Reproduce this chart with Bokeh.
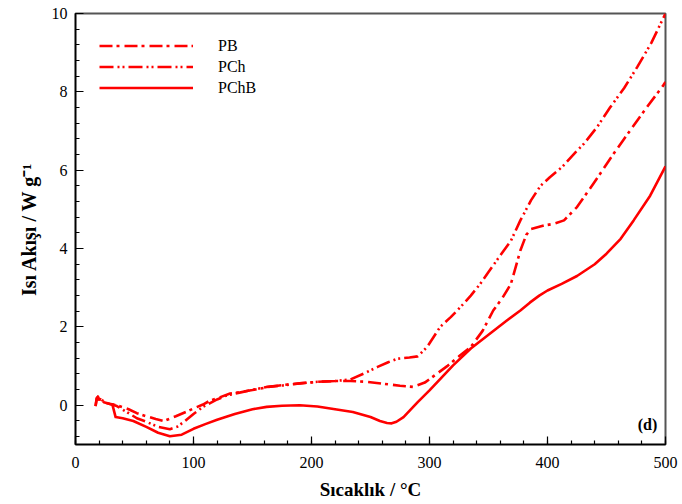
from bokeh.plotting import figure
from bokeh.models import Range1d, SingleIntervalTicker, Legend, LegendItem, Label
from bokeh.embed import file_html
from bokeh.resources import INLINE

# ---- data ----
pb_t = [17, 18, 19, 20, 21, 24, 30, 35, 45, 52, 60, 68, 75, 85, 95, 100, 108, 114, 122, 131,
        140, 150, 162, 176, 190, 205, 220, 233, 247, 261, 275, 286, 296, 306, 315, 325, 335,
        345, 354, 362, 369, 377, 382, 386, 397, 405, 414, 425, 439, 456, 464, 484, 498, 500]
pb_v = [-0.02, 0.18, 0.22, 0.08, 0.2, 0.08, 0.03, 0.0, -0.1, -0.2, -0.28, -0.35, -0.4, -0.28,
        -0.15, -0.08, 0.02, 0.12, 0.2, 0.3, 0.34, 0.39, 0.46, 0.52, 0.56, 0.6, 0.62, 0.62, 0.6,
        0.55, 0.5, 0.47, 0.58, 0.8, 1.0, 1.25, 1.49, 1.9, 2.42, 2.75, 3.1, 3.95, 4.35, 4.5, 4.59,
        4.63, 4.72, 5.06, 5.66, 6.42, 6.76, 7.6, 8.16, 8.25]

pch_t = [17, 18, 19, 20, 21, 24, 30, 35, 45, 52, 60, 70, 80, 86, 92, 100, 108, 120, 128, 140,
         148, 162, 176, 190, 205, 220, 233, 245, 256, 265, 273, 283, 290, 298, 309, 318, 326,
         335, 343, 350, 357, 363, 369, 377, 386, 394, 402, 413, 425, 431, 442, 453, 465, 476,
         488, 500]
pch_v = [-0.02, 0.18, 0.22, 0.08, 0.2, 0.08, 0.03, -0.02, -0.2, -0.33, -0.42, -0.55, -0.61,
         -0.55, -0.42, -0.22, -0.04, 0.15, 0.25, 0.33, 0.38, 0.47, 0.51, 0.56, 0.6, 0.62, 0.66,
         0.82, 0.98, 1.1, 1.19, 1.22, 1.25, 1.49, 2.0, 2.25, 2.5, 2.8, 3.1, 3.4, 3.7, 3.95, 4.2,
         4.72, 5.23, 5.6, 5.82, 6.1, 6.5, 6.68, 7.1, 7.6, 8.1, 8.63, 9.25, 10.0]

pchb_t = [31, 34, 40, 49, 60, 70, 80, 90, 100, 110, 120, 135, 150, 162, 175, 190, 205, 220,
          235, 250, 258, 264, 268, 272, 278, 290, 300, 310, 320, 335, 350, 365, 377, 385, 393,
          400, 412, 425, 440, 450, 462, 473, 487, 500]
pchb_v = [0.05, -0.3, -0.33, -0.4, -0.55, -0.7, -0.79, -0.75, -0.6, -0.48, -0.37, -0.22, -0.1,
          -0.04, -0.01, 0.0, -0.03, -0.1, -0.17, -0.3, -0.4, -0.45, -0.46, -0.42, -0.3, 0.08,
          0.38, 0.7, 1.02, 1.45, 1.8, 2.15, 2.42, 2.62, 2.8, 2.93, 3.1, 3.3, 3.6, 3.87, 4.25,
          4.72, 5.35, 6.1]

series_names = ["PB", "PCh", "PChB"]
x_title = "Sıcaklık / °C"
y_title = "Isı Akışı / W g⁻¹"
panel_tag = "(d)"

FONT = "Liberation Serif"
RED = "#ff0000"

p = figure(width=682, height=504, output_backend="svg", toolbar_location=None,
           x_range=Range1d(0, 500), y_range=Range1d(-1, 10))
p.min_border_left = 75
p.min_border_right = 17
p.min_border_top = 13
p.min_border_bottom = 60
p.background_fill_color = "white"
p.border_fill_color = "white"
p.grid.visible = False
p.outline_line_color = "#555555"
p.outline_line_width = 2

r_pb = p.line(pb_t, pb_v, line_color=RED, line_width=2.6, line_dash="13 4 3 5",
              line_join="round")
r_pch = p.line(pch_t, pch_v, line_color=RED, line_width=2.6, line_dash="14 4 2 3 2 4",
               line_join="round")
r_pchb = p.line(pchb_t, pchb_v, line_color=RED, line_width=2.6, line_join="round")

xa = p.xaxis[0]
ya = p.yaxis[0]
xa.ticker = SingleIntervalTicker(interval=100, num_minor_ticks=5)
ya.ticker = SingleIntervalTicker(interval=2, num_minor_ticks=5)
for ax in (xa, ya):
    ax.major_tick_in = 8
    ax.major_tick_out = 0
    ax.minor_tick_in = 4
    ax.minor_tick_out = 0
    ax.axis_line_color = "black"
    ax.axis_line_width = 1.5
    ax.major_tick_line_color = "black"
    ax.minor_tick_line_color = "black"
    ax.major_tick_line_width = 1.2
    ax.minor_tick_line_width = 1.2
    ax.major_label_text_font = FONT
    ax.major_label_text_font_size = "16px"
    ax.major_label_text_color = "black"
    ax.axis_label_text_font = FONT
    ax.axis_label_text_font_style = "bold"
    ax.axis_label_text_color = "black"
xa.axis_label_text_font_size = "19px"
ya.axis_label_text_font_size = "20px"
xa.axis_label = x_title
ya.axis_label = y_title
xa.major_label_standoff = 12
ya.major_label_standoff = 8
xa.axis_label_standoff = 8
ya.axis_label_standoff = 9

legend = Legend(items=[LegendItem(label=series_names[0], renderers=[r_pb]),
                       LegendItem(label=series_names[1], renderers=[r_pch]),
                       LegendItem(label=series_names[2], renderers=[r_pchb])],
                location=(24, 346), padding=0, margin=0, spacing=0,
                glyph_width=94, glyph_height=21, label_height=21, label_standoff=25,
                label_text_font=FONT, label_text_font_size="16px",
                label_text_color="black",
                border_line_alpha=0, background_fill_alpha=0)
p.add_layout(legend)

p.add_layout(Label(x=493, y=-0.48, text=panel_tag, text_font=FONT, text_font_size="16px",
                   text_font_style="bold", text_align="right", text_baseline="middle",
                   text_color="black"))

open("out.html", "w").write(file_html(p, INLINE))
